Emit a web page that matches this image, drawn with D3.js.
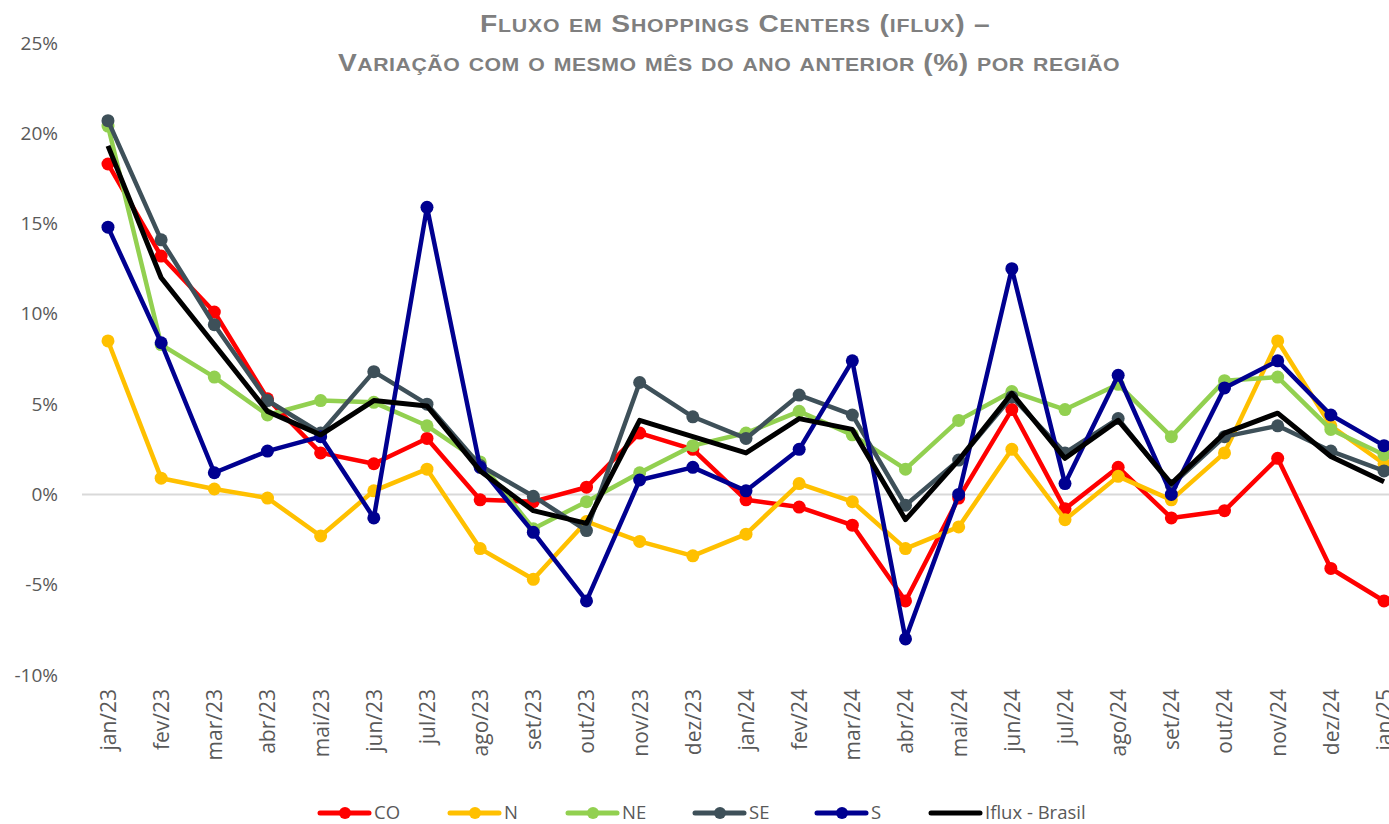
<!DOCTYPE html>
<html><head><meta charset="utf-8">
<script src="https://cdn.jsdelivr.net/npm/d3@7/dist/d3.min.js"></script>
<style>body{margin:0;background:#fff;overflow:hidden}svg{display:block}</style>
</head><body><svg id="c" width="1389" height="824"></svg>
<script>
const categories = ["jan/23","fev/23","mar/23","abr/23","mai/23","jun/23","jul/23","ago/23","set/23","out/23","nov/23","dez/23","jan/24","fev/24","mar/24","abr/24","mai/24","jun/24","jul/24","ago/24","set/24","out/24","nov/24","dez/24","jan/25"];
const CO = [18.3,13.2,10.1,5.3,2.3,1.7,3.1,-0.3,-0.4,0.4,3.4,2.5,-0.3,-0.7,-1.7,-5.9,-0.2,4.7,-0.8,1.5,-1.3,-0.9,2.0,-4.1,-5.9];
const N = [8.5,0.9,0.3,-0.2,-2.3,0.2,1.4,-3.0,-4.7,-1.5,-2.6,-3.4,-2.2,0.6,-0.4,-3.0,-1.8,2.5,-1.4,1.0,-0.3,2.3,8.5,3.8,1.7];
const NE = [20.4,8.3,6.5,4.4,5.2,5.1,3.8,1.8,-1.9,-0.4,1.2,2.7,3.4,4.6,3.3,1.4,4.1,5.7,4.7,6.1,3.2,6.3,6.5,3.6,2.2];
const SE = [20.7,14.1,9.4,5.2,3.4,6.8,5.0,1.6,-0.1,-2.0,6.2,4.3,3.1,5.5,4.4,-0.6,1.9,5.4,2.3,4.2,0.5,3.2,3.8,2.4,1.3];
const S = [14.8,8.4,1.2,2.4,3.2,-1.3,15.9,1.5,-2.1,-5.9,0.8,1.5,0.2,2.5,7.4,-8.0,0.0,12.5,0.6,6.6,0.0,5.9,7.4,4.4,2.7];
const BRASIL = [19.3,12.0,8.3,4.6,3.3,5.2,4.9,1.3,-0.9,-1.6,4.1,3.2,2.3,4.2,3.6,-1.4,1.9,5.6,2.0,4.1,0.6,3.4,4.5,2.1,0.7];
const yTicks = [-10,-5,0,5,10,15,20,25];
const seriesNames = ["CO","N","NE","SE","S","Iflux - Brasil"];
const seriesColors = ["#ff0000","#ffc000","#92d050","#3e5059","#000090","#000000"];
const seriesData = [CO,N,NE,SE,S,BRASIL];
const titleLines = ["Fluxo em Shoppings Centers (iflux) –","Variação com o mesmo mês do ano anterior (%) por região"];

const svg = d3.select("#c");
const x = d3.scalePoint().domain(categories).range([81.4,1410.6]).padding(0.5);
const y = d3.scaleLinear().domain([-10,25]).range([675,43]);

// title (manual small caps, mild horizontal stretch + tracking to the reference width)
const titleSpec = [{x0:480,x1:990,y:32},{x0:338,x1:1120,y:71}];
const stretch = 1.15;
function runs(s){
  const out=[]; let cur=null;
  for(const ch of s){
    const small = ch !== ch.toUpperCase();
    if(!cur || cur.small!==small){cur={small,t:""};out.push(cur);}
    cur.t += small ? ch.toUpperCase() : ch;
  }
  return out;
}
titleLines.forEach((t,i)=>{
  const g = svg.append("g");
  const txt = g.append("text").attr("x",0).attr("y",0)
    .attr("fill","#7f7f7f").style("font-family","'Liberation Sans',Arial,sans-serif")
    .style("font-weight","bold");
  txt.selectAll("tspan").data(runs(t)).enter().append("tspan")
    .style("font-size",d=>d.small?"18.5px":"24.5px").text(d=>d.t);
  const w = txt.node().getComputedTextLength();
  const target = (titleSpec[i].x1 - titleSpec[i].x0)/stretch;
  txt.style("letter-spacing", Math.max(0,(target-w)/(t.length-1))+"px");
  g.attr("transform",`translate(${titleSpec[i].x0},${titleSpec[i].y}) scale(${stretch},1)`);
});

// y axis
const yAxis = d3.axisLeft(y).tickValues(yTicks).tickSize(0).tickPadding(0).tickFormat(d=>d+"%");
const gy = svg.append("g").attr("transform","translate(58,0)").call(yAxis);
gy.select(".domain").remove();
gy.selectAll("text").attr("fill","#595959").style("font-family","'Open Sans',sans-serif").style("font-size","19px");

// zero line
svg.append("line").attr("x1",82).attr("x2",1389).attr("y1",y(0)).attr("y2",y(0)).attr("stroke","#d9d9d9").attr("stroke-width",2);

// x axis labels
const xAxis = d3.axisBottom(x).tickSize(0).tickPadding(0);
const gx = svg.append("g").attr("transform","translate(0,689)").call(xAxis);
gx.select(".domain").remove();
gx.selectAll("text").attr("fill","#595959").style("font-family","'Open Sans',sans-serif").style("font-size","21px")
  .attr("text-anchor","end").attr("transform","rotate(-90)").attr("x",0).attr("y",0).attr("dy","0.35em")
  .attr("dx",0);

// lines
const line = d3.line().x((d,i)=>x(categories[i])).y(d=>y(d));
seriesData.forEach((data,k)=>{
  svg.append("path").datum(data).attr("d",line).attr("fill","none")
    .attr("stroke",seriesColors[k]).attr("stroke-width",k===5?5:4.5).attr("stroke-linejoin","round");
  if(k<5){
    svg.selectAll(null).data(data).enter().append("circle")
      .attr("cx",(d,i)=>x(categories[i])).attr("cy",d=>y(d)).attr("r",6.5).attr("fill",seriesColors[k]);
  }
});

// legend
const legX = [318,448,566,693,815,929];
const leg = svg.append("g");
seriesNames.forEach((n,k)=>{
  const g = leg.append("g").attr("transform",`translate(${legX[k]},813)`);
  g.append("line").attr("x1",2).attr("x2",51).attr("y1",0).attr("y2",0).attr("stroke",seriesColors[k]).attr("stroke-width",5).attr("stroke-linecap","round");
  if(k<5) g.append("circle").attr("cx",27).attr("cy",0).attr("r",6).attr("fill",seriesColors[k]);
  g.append("text").attr("x",56).attr("y",0).attr("dy","0.35em").attr("fill","#595959")
    .style("font-family","'Open Sans',sans-serif").style("font-size","18.5px").text(n);
});
</script></body></html>
